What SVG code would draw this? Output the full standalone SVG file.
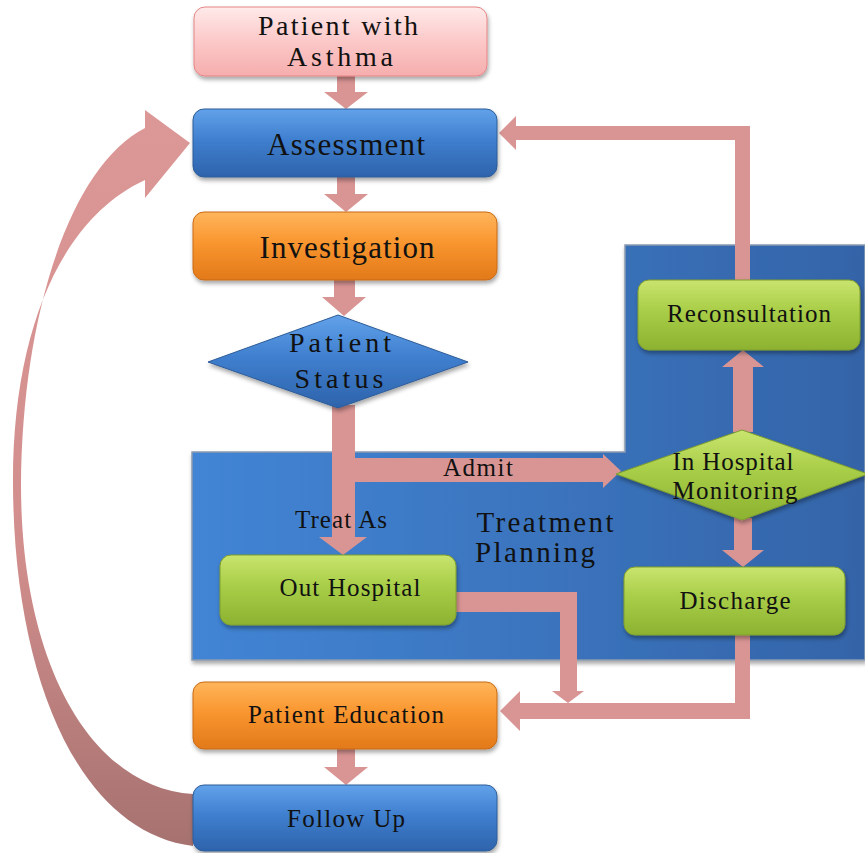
<svg xmlns="http://www.w3.org/2000/svg" width="865" height="853" viewBox="0 0 865 853">
<defs>
<linearGradient id="gBlue" x1="0" y1="0" x2="0" y2="1"><stop offset="0" stop-color="#62a2ea"/><stop offset="0.45" stop-color="#3f7fcf"/><stop offset="1" stop-color="#2e63ab"/></linearGradient>
<linearGradient id="gOrange" x1="0" y1="0" x2="0" y2="1"><stop offset="0" stop-color="#ffb55c"/><stop offset="0.45" stop-color="#f9962f"/><stop offset="1" stop-color="#e2791a"/></linearGradient>
<linearGradient id="gGreen" x1="0" y1="0" x2="0" y2="1"><stop offset="0" stop-color="#c9e46e"/><stop offset="0.45" stop-color="#a8cd47"/><stop offset="1" stop-color="#8db231"/></linearGradient>
<linearGradient id="gPink" x1="0" y1="0" x2="0" y2="1"><stop offset="0" stop-color="#ffeaea"/><stop offset="0.5" stop-color="#fcc8c8"/><stop offset="1" stop-color="#f6adad"/></linearGradient>
<linearGradient id="gPanel" x1="0" y1="0" x2="1" y2="0"><stop offset="0" stop-color="#4285d5"/><stop offset="1" stop-color="#3464a8"/></linearGradient>
<linearGradient id="gCurve" x1="0" y1="0" x2="0" y2="1"><stop offset="0" stop-color="#dc9896"/><stop offset="0.6" stop-color="#d18e8c"/><stop offset="1" stop-color="#a67270"/></linearGradient>
<filter id="sh" x="-10%" y="-10%" width="120%" height="130%"><feDropShadow dx="1" dy="3" stdDeviation="2" flood-color="#000" flood-opacity="0.35"/></filter>
</defs>
<style>
.box{stroke-width:1}
.blue{fill:url(#gBlue);stroke:#2d5c98}
.orange{fill:url(#gOrange);stroke:#c86a14}
.green{fill:url(#gGreen);stroke:#7f9e2e}
.pink{fill:url(#gPink);stroke:#e48585}
.conn{fill:#d99594;stroke:none}
text{font-family:"Liberation Serif","Times New Roman",serif;fill:#111;text-anchor:middle}
.big{font-size:31px}
.two{font-size:28px}
.mid{font-size:29px}
.sm{font-size:25px}
</style>

<g id="treatment-planning">
<path d="M192,452 L625,452 L625,245 L865,245 L865,660 L192,660 Z" fill="url(#gPanel)" stroke="#8a9bb0" stroke-width="1.5" filter="url(#sh)"/>
<text class="mid" x="545" y="532" textLength="137" lengthAdjust="spacing">Treatment</text>
<text class="mid" x="535" y="562" textLength="120" lengthAdjust="spacing">Planning</text>
</g>

<g id="connectors">
<path class="conn" d="M337,76 H355 V92 H368 L346,109 L324,92 H337 Z"/>
<path class="conn" d="M337,177 H355 V194 H368 L346,212 L324,194 H337 Z"/>
<path class="conn" d="M334,280 H355 V297 H366 L344,316 L322,297 H334 Z"/>
<path class="conn" d="M332,405 H355 V537 H367 L343,555 L319,537 H332 Z"/>
<path class="conn" d="M355,458 H603 V454 L621,471 L603,488 V482 H355 Z"/>
<path class="conn" d="M733,432 V367 H722 L743,350 L764,367 H753 V432 Z"/>
<path class="conn" d="M735,281 V140 H516 V150 L499,133 L516,116 V126 H750 V281 Z"/>
<path class="conn" d="M734,518 H752 V550 H764 L743,567 L722,550 H734 Z"/>
<path class="conn" d="M735,635 H750 V719 H520 V731 L500,711 L520,691 V703 H735 Z"/>
<path class="conn" d="M456,592 H577 V691 H584 L568,703 L552,691 H560 V612 H456 Z"/>
<path class="conn" d="M337,749 H355 V767 H368 L346,785 L324,767 H337 Z"/>
<path d="M193,846 C80,832 14,680 13,485 C12,330 62,218 145,180 L145,198 L190,143 L145,110 L145,128 C68,168 22,320 21,485 C21,665 92,788 193,794 Z" fill="url(#gCurve)"/>
<text class="sm" x="478" y="476" textLength="70" lengthAdjust="spacing">Admit</text>
<text class="sm" x="341" y="528" textLength="92" lengthAdjust="spacing">Treat As</text>
</g>

<g id="patient-with-asthma">
<rect class="box pink" x="194" y="7" width="293" height="69" rx="11" filter="url(#sh)"/>
<text class="two" x="338" y="35" textLength="160" lengthAdjust="spacing">Patient with</text>
<text class="two" x="340" y="66" textLength="106" lengthAdjust="spacing">Asthma</text>
</g>

<g id="assessment">
<rect class="box blue" x="193" y="109" width="304" height="68" rx="11" filter="url(#sh)"/>
<text class="big" x="346" y="155" textLength="158" lengthAdjust="spacing">Assessment</text>
</g>

<g id="investigation">
<rect class="box orange" x="193" y="212" width="304" height="68" rx="11" filter="url(#sh)"/>
<text class="big" x="347" y="258" textLength="175" lengthAdjust="spacing">Investigation</text>
</g>

<g id="patient-status">
<path class="box blue" d="M338,315 L468,362 L338,408 L208,362 Z" filter="url(#sh)"/>
<text class="two" x="340" y="352" textLength="102" lengthAdjust="spacing">Patient</text>
<text class="two" x="339" y="388" textLength="89" lengthAdjust="spacing">Status</text>
</g>

<g id="reconsultation">
<rect class="box green" x="638" y="280" width="222" height="70" rx="11" filter="url(#sh)"/>
<text class="sm" x="749" y="322" textLength="164" lengthAdjust="spacing">Reconsultation</text>
</g>

<g id="in-hospital-monitoring">
<path class="box green" d="M742,430 L868,474 L742,520 L616,474 Z" filter="url(#sh)"/>
<text class="sm" x="733" y="470" textLength="121" lengthAdjust="spacing">In Hospital</text>
<text class="sm" x="735" y="499" textLength="125" lengthAdjust="spacing">Monitoring</text>
</g>

<g id="out-hospital">
<rect class="box green" x="220" y="555" width="236" height="70" rx="11" filter="url(#sh)"/>
<text class="sm" x="350" y="596" textLength="141" lengthAdjust="spacing">Out Hospital</text>
</g>

<g id="discharge">
<rect class="box green" x="624" y="567" width="221" height="68" rx="11" filter="url(#sh)"/>
<text class="sm" x="735" y="609" textLength="111" lengthAdjust="spacing">Discharge</text>
</g>

<g id="patient-education">
<rect class="box orange" x="193" y="682" width="304" height="67" rx="11" filter="url(#sh)"/>
<text class="sm" x="346" y="723" textLength="196" lengthAdjust="spacing">Patient Education</text>
</g>

<g id="follow-up">
<rect class="box blue" x="193" y="785" width="304" height="66" rx="11" filter="url(#sh)"/>
<text class="sm" x="346" y="827" textLength="118" lengthAdjust="spacing">Follow Up</text>
</g>
</svg>
